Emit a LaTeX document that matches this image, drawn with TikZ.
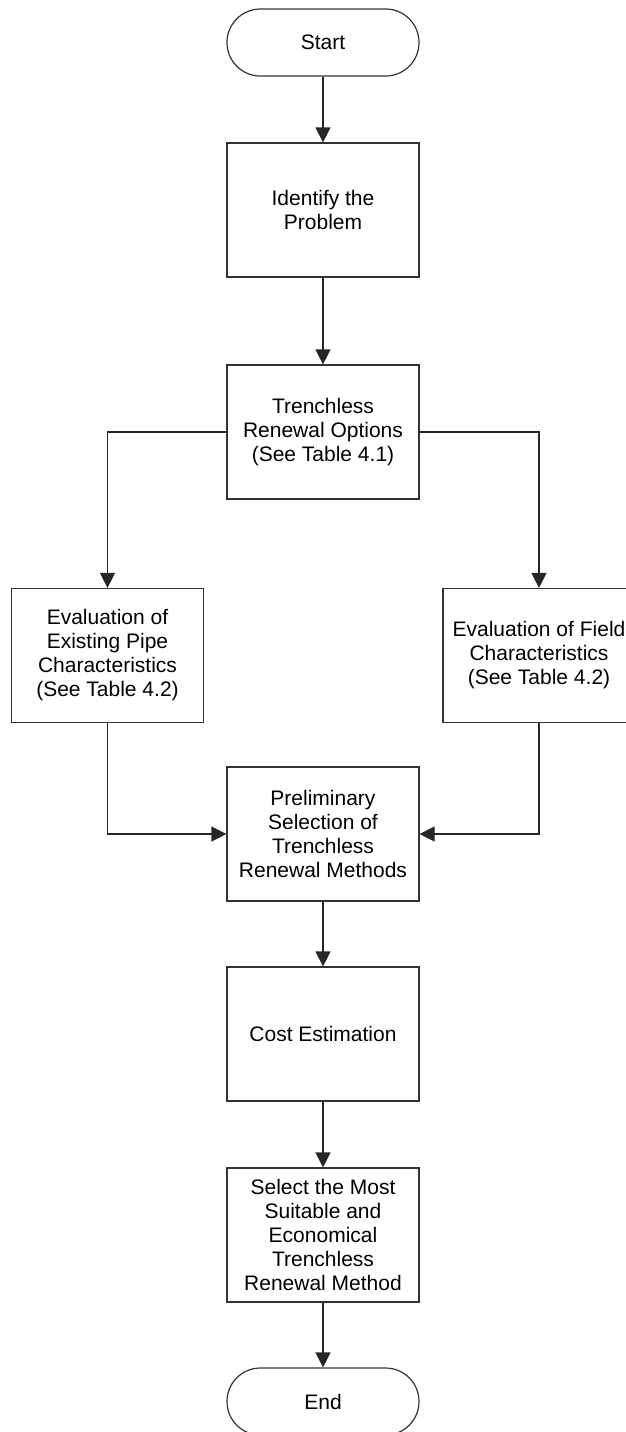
\documentclass[tikz,border=0pt]{standalone}
\usepackage{fontspec}
\setmainfont{Liberation Sans}
\usetikzlibrary{arrows.meta}
\begin{document}
\begin{tikzpicture}[x=0.5pt,y=-0.5pt,
  every node/.style={font=\fontsize{10.5pt}{12pt}\selectfont, align=center, inner sep=0pt},
  procbox/.style={draw=black!80, line width=0.6pt, minimum width=96pt, minimum height=67pt},
  termbox/.style={draw=black!80, line width=0.6pt, minimum width=96pt, minimum height=33.5pt, rounded corners=16.7pt},
  arr/.style={draw=black!85, line width=0.6pt, -{Triangle[length=7.5pt,width=7.5pt]}}
]
\useasboundingbox (0,0) rectangle (626,1432);
\clip (0,0) rectangle (626,1432);

% main column
\node[termbox] (start) at (323,42.5) {Start};
\node[procbox] (ident) at (323,210) {Identify the\\Problem};
\node[procbox] (trench) at (323,432) {Trenchless\\Renewal Options\\(See Table 4.1)};

% evaluation branches
\node[procbox] (evalL) at (107.5,655.5) {Evaluation of\\Existing Pipe\\Characteristics\\(See Table 4.2)};
\node[procbox] (evalR) at (539,655.5) {Evaluation of Field\\Characteristics\\(See Table 4.2)};

% selection and costing
\node[procbox] (prelim) at (323,834) {Preliminary\\Selection of\\Trenchless\\Renewal Methods};
\node[procbox] (cost) at (323,1034) {Cost Estimation};
\node[procbox] (select) at (323,1235) {Select the Most\\Suitable and\\Economical\\Trenchless\\Renewal Method};
\node[termbox] (finish) at (323,1401.5) {End};

% connectors
\draw[arr] (start) -- (ident);
\draw[arr] (ident) -- (trench);
\draw[arr] (trench.west) -| (evalL.north);
\draw[arr] (trench.east) -| (evalR.north);
\draw[arr] (evalL.south) |- (prelim.west);
\draw[arr] (evalR.south) |- (prelim.east);
\draw[arr] (prelim) -- (cost);
\draw[arr] (cost) -- (select);
\draw[arr] (select) -- (finish);
\end{tikzpicture}
\end{document}
